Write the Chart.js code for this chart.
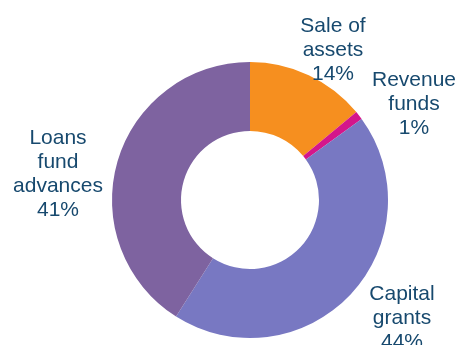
<!DOCTYPE html>
<html>
<head>
<meta charset="utf-8">
<script src="https://cdn.jsdelivr.net/npm/chart.js@4/dist/chart.umd.min.js"></script>
<style>
  html, body { margin: 0; padding: 0; background: #fff; }
  #wrap { width: 457px; height: 345px; }
</style>
</head>
<body>
<div id="wrap"><canvas id="fundChart" width="457" height="345"></canvas></div>
<script>
// Funding sources, clockwise from 12 o'clock
var categories = [['Sale of', 'assets'], ['Revenue', 'funds'], ['Capital', 'grants'], ['Loans', 'fund', 'advances']];
var shares = [14, 1, 44, 41];
var colours = ['#f68f1f', '#d4168b', '#7878c2', '#7e63a0'];

// where each label block sits, relative to the ring centre (px)
var labelOffsets = [[83, -150], [164, -96], [152, 118], [-192, -26]];

var labelPlugin = {
    id: 'ringLabels',
    afterDatasetsDraw: function (chart) {
        var ctx = chart.ctx;
        var arc = chart.getDatasetMeta(0).data[0];
        var cx = arc.x, cy = arc.y;
        var lineH = 24;
        ctx.save();
        ctx.fillStyle = '#17496e';
        ctx.font = '21px "Liberation Sans", Arial, sans-serif';
        ctx.textAlign = 'center';
        ctx.textBaseline = 'middle';
        categories.forEach(function (lines, i) {
            var all = lines.concat([shares[i] + '%']);
            var x = cx + labelOffsets[i][0];
            var y0 = cy + labelOffsets[i][1] - (all.length - 1) * lineH / 2;
            all.forEach(function (t, j) {
                ctx.fillText(t, x, y0 + j * lineH);
            });
        });
        ctx.restore();
    }
};

new Chart(document.getElementById('fundChart'), {
    type: 'doughnut',
    data: {
        labels: categories.map(function (c) { return c.join(' '); }),
        datasets: [{
            data: shares,
            backgroundColor: colours,
            borderWidth: 0
        }]
    },
    options: {
        responsive: false,
        animation: false,
        cutout: '50%',
        layout: { padding: { top: 62, bottom: 7, left: 112, right: 69 } },
        plugins: {
            legend: { display: false },
            tooltip: { enabled: false }
        }
    },
    plugins: [labelPlugin]
});
</script>
</body>
</html>
